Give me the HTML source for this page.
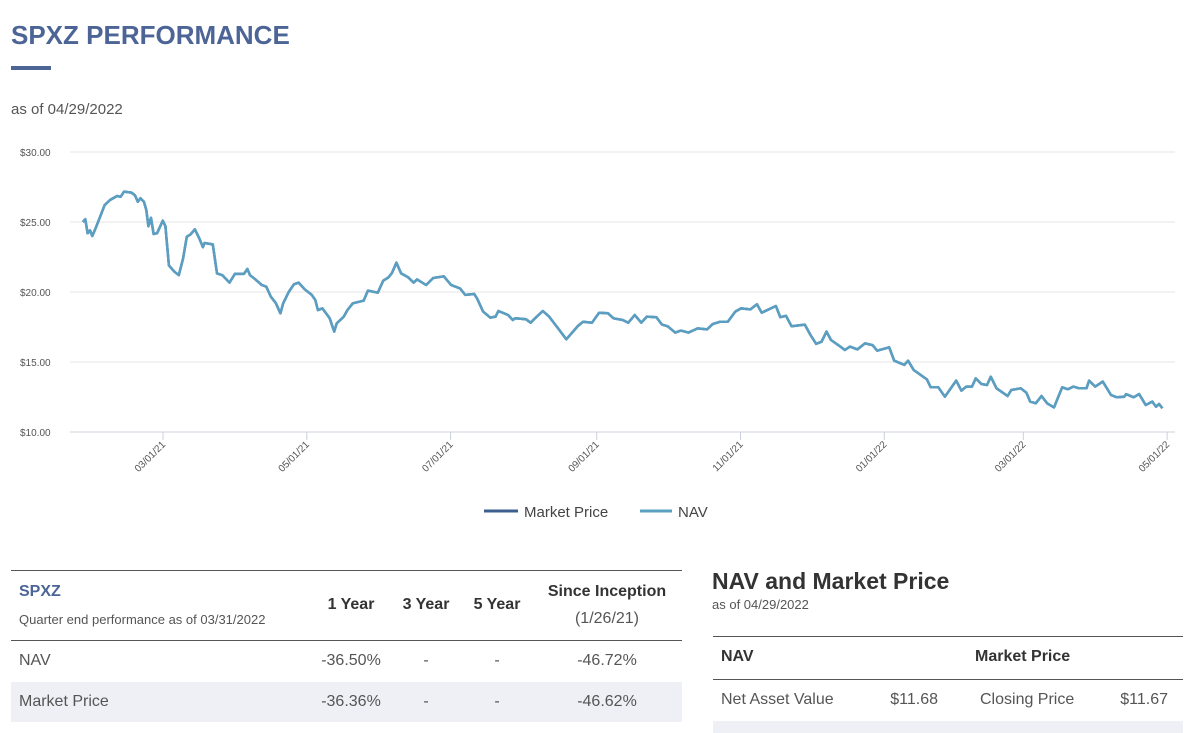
<!DOCTYPE html>
<html><head><meta charset="utf-8"><style>
body{margin:0;width:1189px;height:733px;overflow:hidden;background:#fff;font-family:"Liberation Sans",sans-serif;color:#444;position:relative}
.a{position:absolute;white-space:nowrap}
</style></head><body>
<div class="a" style="left:11px;top:20px;font-size:26px;font-weight:bold;color:#4c6596">SPXZ PERFORMANCE</div>
<div class="a" style="left:11px;top:66px;width:40px;height:4px;background:#4c6596"></div>
<div class="a" style="left:11px;top:101px;font-size:15px;color:#555">as of 04/29/2022</div>

<svg class="a" style="left:0;top:0" width="1189" height="540">
<g id="grid"></g><g id="xaxis"></g><g id="lines"></g>
<g>
<line x1="484" y1="511" x2="518" y2="511" stroke="#3d5f8f" stroke-width="3"/>
<text x="524" y="517" font-size="15" fill="#444">Market Price</text>
<line x1="640" y1="511" x2="672" y2="511" stroke="#5aa0c3" stroke-width="3"/>
<text x="678" y="517" font-size="15" fill="#444">NAV</text>
</g>
</svg>

<div class="a" style="left:11px;top:570px;width:671px;height:153px">
<div class="a" style="left:0;top:0;width:671px;height:1px;background:#555"></div>
<div class="a" style="left:8px;top:13px;font-size:16px;font-weight:bold;color:#4c6596">SPXZ</div>
<div class="a" style="left:8px;top:42px;font-size:13px;color:#555">Quarter end performance as of 03/31/2022</div>
<div class="a" style="left:300px;top:26px;width:80px;text-align:center;font-size:16px;font-weight:bold;color:#333">1 Year</div>
<div class="a" style="left:375px;top:26px;width:80px;text-align:center;font-size:16px;font-weight:bold;color:#333">3 Year</div>
<div class="a" style="left:446px;top:26px;width:80px;text-align:center;font-size:16px;font-weight:bold;color:#333">5 Year</div>
<div class="a" style="left:526px;top:13px;width:140px;text-align:center;font-size:16px;font-weight:bold;color:#333">Since Inception</div>
<div class="a" style="left:526px;top:40px;width:140px;text-align:center;font-size:16px;color:#555">(1/26/21)</div>
<div class="a" style="left:0;top:70px;width:671px;height:1px;background:#555"></div>
<div class="a" style="left:0;top:71px;width:671px;height:41px;font-size:16px;color:#555">
<span class="a" style="left:8px;top:11px">NAV</span><span class="a" style="left:300px;top:11px;width:80px;text-align:center">-36.50%</span><span class="a" style="left:375px;top:11px;width:80px;text-align:center">-</span><span class="a" style="left:446px;top:11px;width:80px;text-align:center">-</span><span class="a" style="left:526px;top:11px;width:140px;text-align:center">-46.72%</span></div>
<div class="a" style="left:0;top:112px;width:671px;height:40px;background:#eef0f6;font-size:16px;color:#555">
<span class="a" style="left:8px;top:11px">Market Price</span><span class="a" style="left:300px;top:11px;width:80px;text-align:center">-36.36%</span><span class="a" style="left:375px;top:11px;width:80px;text-align:center">-</span><span class="a" style="left:446px;top:11px;width:80px;text-align:center">-</span><span class="a" style="left:526px;top:11px;width:140px;text-align:center">-46.62%</span></div>
</div>

<div class="a" style="left:712px;top:568px;font-size:23px;font-weight:bold;color:#333">NAV and Market Price</div>
<div class="a" style="left:712px;top:597px;font-size:13px;color:#555">as of 04/29/2022</div>
<div class="a" style="left:713px;top:636px;width:470px;height:97px">
<div class="a" style="left:0;top:0;width:470px;height:1px;background:#555"></div>
<div class="a" style="left:8px;top:12px;font-size:16px;font-weight:bold;color:#333">NAV</div>
<div class="a" style="left:262px;top:12px;font-size:16px;font-weight:bold;color:#333">Market Price</div>
<div class="a" style="left:0;top:43px;width:470px;height:1px;background:#555"></div>
<div class="a" style="left:8px;top:55px;font-size:16px;color:#555">Net Asset Value</div>
<div class="a" style="left:150px;top:55px;width:75px;text-align:right;font-size:16px;color:#555">$11.68</div>
<div class="a" style="left:267px;top:55px;font-size:16px;color:#555">Closing Price</div>
<div class="a" style="left:380px;top:55px;width:75px;text-align:right;font-size:16px;color:#555">$11.67</div>
<div class="a" style="left:0;top:85px;width:470px;height:12px;background:#eef0f6"></div>
</div>

<script>
const yTicks=[10,15,20,25,30];
const yTickLabels=["$10.00","$15.00","$20.00","$25.00","$30.00"];
const xTickDays=[34,95,156,218,279,340,399,460];
const xTickLabels=["03/01/21","05/01/21","07/01/21","09/01/21","11/01/21","01/01/22","03/01/22","05/01/22"];
const navDays=[0,1,2,3,4,5.4,9.2,11.5,14.5,16,17.5,20.6,22.1,23.3,24.4,25.9,26.9,27.8,28.9,30,31.5,33.9,35,36.5,38.8,40.7,42.5,44.1,45.6,47.5,49.4,50.9,51.6,55.1,56.9,59.2,62.2,64.5,68.3,69.8,70.9,72.8,75.9,77.8,79.7,81.9,83.8,85,87.3,89.5,91.5,94.1,97.1,98.6,99.7,101.6,104.7,106.6,107.7,110.7,112.2,114.5,119.1,120.9,125.1,127.4,129.7,131.2,133,135,138,140.3,141.8,145.6,148.6,153.1,156.2,160,162.2,166,167.2,169.8,172.8,175.1,176.3,180.4,182.4,183.4,188,190,191.8,195.1,197.8,201.6,205.1,210,212.2,216,219,222.8,225.1,229,231.4,234.1,236.9,239.3,243.3,245.7,248.1,251.3,253.7,256.9,260.8,264.8,267.2,270.4,273.6,276.8,279.2,283.2,286,288,294,295.9,298.3,300.7,306.3,308.7,311.1,313.4,315.5,317.4,321.4,323.3,325.4,328.6,331.8,335,337,342.1,344.2,348.5,350.1,352.5,358.1,359.7,362.9,365.7,370.5,372.7,374.8,377.2,378.8,381.2,383.6,385.2,387.6,392.3,393.9,397.9,400.3,401.9,404.3,406.7,409.1,412,415.5,417.9,420.2,422.6,425.8,426.9,429.5,432.7,436.2,438.6,441.8,442.6,445.8,448.1,450.9,453.7,455.3,456.6,458];
const navValues=[25.0,25.2,24.19,24.4,24.0,24.55,26.2,26.57,26.86,26.8,27.17,27.1,26.9,26.45,26.7,26.45,25.86,24.7,25.3,24.14,24.2,25.1,24.7,21.9,21.45,21.2,22.4,23.95,24.1,24.48,23.83,23.2,23.5,23.4,21.33,21.2,20.67,21.29,21.29,21.64,21.2,20.95,20.5,20.38,19.67,19.19,18.48,19.19,20.0,20.55,20.67,20.19,19.79,19.43,18.71,18.83,18.12,17.17,17.76,18.24,18.71,19.19,19.38,20.1,19.95,20.81,21.05,21.38,22.1,21.33,21.05,20.67,20.9,20.5,21.0,21.12,20.5,20.26,19.79,19.86,19.55,18.6,18.17,18.24,18.64,18.36,18.0,18.12,18.05,17.81,18.12,18.64,18.24,17.4,16.62,17.57,17.88,17.81,18.52,18.48,18.12,18.0,17.81,18.36,17.81,18.24,18.2,17.67,17.55,17.1,17.24,17.1,17.4,17.33,17.71,17.88,17.88,18.6,18.83,18.76,19.12,18.52,19.0,18.2,18.29,17.55,17.67,16.93,16.29,16.45,17.17,16.57,16.1,15.86,16.1,15.9,16.33,16.21,15.81,16.05,15.09,14.79,15.09,14.43,13.76,13.19,13.19,12.52,13.67,12.95,13.24,13.24,13.83,13.43,13.36,13.95,13.12,12.57,13.0,13.12,12.81,12.17,12.05,12.57,12.05,11.76,13.19,13.05,13.24,13.12,13.12,13.67,13.24,13.6,12.64,12.48,12.52,12.71,12.48,12.71,11.93,12.17,11.81,12.0,11.69];
const marketValues=navValues.map(v=>v);
const NS='http://www.w3.org/2000/svg';
const xPos=d=>82.9+d*2.357;
const yPos=v=>432-(v-10)*14;
function mk(tag,attrs,parent){const e=document.createElementNS(NS,tag);for(const k in attrs)e.setAttribute(k,attrs[k]);parent.appendChild(e);return e;}
const grid=document.getElementById('grid');
yTicks.forEach((t,i)=>{
  const l=mk('line',{x1:70,x2:1175,y1:yPos(t),y2:yPos(t),stroke:t===10?'#ccd0dc':'#e6e6e6','stroke-width':1},grid);
  
  
  const tx=mk('text',{x:20,y:yPos(t)+4,'font-size':10,fill:'#555'},grid);
  tx.textContent=yTickLabels[i];
  
  
});
const xa=document.getElementById('xaxis');
xTickDays.forEach((d,i)=>{
  const x=xPos(d);
  const tk=mk('line',{x1:x,x2:x,y1:432,y2:440,stroke:'#ccd0dc'},xa);
  
  
  const tx=mk('text',{x:x+3,y:445,'font-size':10,fill:'#555','text-anchor':'end',transform:`rotate(-45 ${x+3} 445)`},xa);
  tx.textContent=xTickLabels[i];
  
  
});
const lines=document.getElementById('lines');
function path(vals){return navDays.map((d,i)=>(i?'L':'M')+xPos(d).toFixed(1)+' '+yPos(vals[i]).toFixed(1)).join(' ');}
const mp=mk('path',{d:path(marketValues),fill:'none',stroke:'#3d5f8f','stroke-width':2.5,'stroke-linejoin':'round'},lines);


const np=mk('path',{d:path(navValues),fill:'none',stroke:'#5a9fc2','stroke-width':2.5,'stroke-linejoin':'round'},lines);


</script>
</body></html>
